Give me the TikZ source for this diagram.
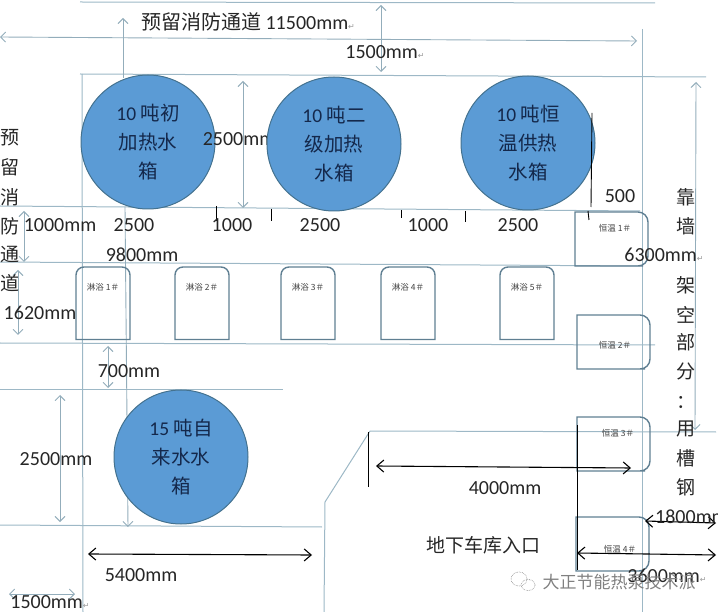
\documentclass[tikz,border=0pt]{standalone}
\usepackage{fontspec}
\usepackage{xcolor}
\usetikzlibrary{arrows.meta}
\setmainfont{Carlito}
\newfontfamily\cjk{Noto Sans CJK SC}
\newfontfamily\symb{DejaVu Sans}
\definecolor{wall}{HTML}{9DB8C6}
\definecolor{dimen}{HTML}{93ADBB}
\definecolor{tankfill}{HTML}{5B9BD5}
\definecolor{tankedge}{HTML}{44728F}
\definecolor{tanktext}{HTML}{14284B}
\definecolor{boxedge}{HTML}{5F7F92}
\definecolor{mark}{HTML}{9A9A9A}
\newcommand{\ret}{{\symb\color{mark}\fontsize{8}{8}\selectfont ↵}}
\tikzset{
  wallline/.style={draw=wall, line width=1pt},
  dimline/.style={draw=dimen, line width=0.9pt, {Straight Barb[length=5pt,width=10pt]}-{Straight Barb[length=5pt,width=10pt]}},
  dimup/.style={draw=dimen, line width=0.9pt, -{Straight Barb[length=5pt,width=10pt]}},
  blackdim/.style={draw=black, line width=1.1pt, {Straight Barb[length=7pt,width=12pt]}-{Straight Barb[length=7pt,width=12pt]}},
  tick/.style={draw=black, line width=0.9pt},
  tank/.style={circle, fill=tankfill, draw=tankedge, line width=1pt, minimum size=134pt, inner sep=0pt,
    text=tanktext, align=center, font=\fontsize{19.5}{29}\selectfont,
    execute at begin node=\rule{0pt}{21pt}},
  lab/.style={text=black!85, inner sep=0pt, font=\fontsize{20}{24}\selectfont},
  sidelab/.style={text=black!85, inner sep=0pt, font=\cjk\fontsize{19}{24}\selectfont},
  shower/.style={draw=boxedge, line width=1.4pt, rounded corners=8pt},
  roomlab/.style={text=black!75, inner sep=0pt, font=\cjk\fontsize{8.5}{9}\selectfont},
  wmark/.style={text=black!50, inner sep=0pt, font=\cjk\fontsize{17}{18}\selectfont}
}
\begin{document}
\begin{tikzpicture}[x=1pt,y=-1pt]
  \useasboundingbox (0,0) rectangle (718,612);
  \clip (0,0) rectangle (718,612);

  % walls and guide lines
  \draw[wallline] (80,2) -- (655,3);
  \draw[wallline] (80,74) -- (706,77);
  \draw[wallline] (0,206) -- (640,211);
  \draw[wallline] (0,262) -- (640,266);
  \draw[wallline] (0,343) -- (655,345);
  \draw[wallline] (0,390) -- (283,390);
  \draw[wallline] (0,525) -- (322,527);
  \draw[wallline] (370,431) -- (716,432);
  \draw[wallline] (82,74) -- (83,612);
  \draw[wallline] (642,29) -- (642,612);
  \draw[wallline] (370,431) -- (325,502) -- (324,612);

  % dimension arrows
  \draw[dimline] (0,37) -- (637,41);
  \draw[dimup] (123,78) -- (123,18);
  \draw[dimline] (381,5) -- (381,72);
  \draw[dimline] (243,81) -- (243,208);
  \draw[dimline] (24,211) -- (24,262);
  \draw[dimline] (18,270) -- (18,335);
  \draw[dimline] (108,346) -- (108,388);
  \draw[dimline] (60,395) -- (60,522);
  \draw[dimline] (9,594) -- (75,594);
  \draw[dimup] (125,207) -- (128,527);
  \draw[dimline] (696,82) -- (695,430);

  % tanks
  \node[tank] (heatA) at (148,142) {10 {\cjk 吨初}\\{\cjk 加热水}\\{\cjk 箱}};
  \node[lab] (lenD) at (239,139) {2500mm};
  \node[tank] (heatB) at (334,144) {10 {\cjk 吨二}\\{\cjk 级加热}\\{\cjk 水箱}};
  \node[tank] (heatC) at (528,143) {10 {\cjk 吨恒}\\{\cjk 温供热}\\{\cjk 水箱}};
  \node[tank] (cold) at (181,457) {15 {\cjk 吨自}\\{\cjk 来水水}\\{\cjk 箱}};

  % shower rooms
  \foreach \bx/\bi in {76/1,175/2,281/3,381/4,500/5} {
    \draw[shower] (\bx,339.5) [sharp corners] -- (\bx+54,339.5) [rounded corners=8pt] -- (\bx+54,267) -- (\bx,267) [sharp corners] -- cycle;
    \node[roomlab] (shower\bi) at (\bx+27,287) {淋浴 \bi ＃};
  }

  % constant temperature rooms
  \foreach \bx/\by/\tx/\ty/\bi in {575/212/615/228/1,577/315/615/345/2,577/417/618/433/3,576/517/620/549/4} {
    \draw[shower, rounded corners=0pt] (\bx,\by) [rounded corners=0pt] -- (\bx+58,\by) [rounded corners=10pt] -- (\bx+73,\by) -- (\bx+73,\by+54) -- (\bx+58,\by+54) [rounded corners=0pt] -- (\bx,\by+54) -- cycle;
    \node[roomlab] (room\bi) at (\tx,\ty) {恒温 \bi ＃};
  }

  % black marks
  \draw[tick] (216,206) -- (216,221);
  \draw[tick] (271,209) -- (271,221);
  \draw[tick] (401,210) -- (401,218);
  \draw[tick] (465,211) -- (465,222);
  \draw[tick] (592,113) -- (591,207);
  \draw[tick] (588,211) -- (589,220);
  \draw[tick] (368,432) -- (368,487);
  \draw[tick] (577,425) -- (577,570);
  \draw[blackdim] (88,554) -- (312,555);
  \draw[blackdim] (376,466) -- (631,468);
  \draw[blackdim] (645,521) -- (716,523);
  \draw[blackdim] (577,553) -- (716,555);

  % labels
  \node[lab] (topL) at (248,22) {{\cjk 预留消防通道} 11500mm\ret};
  \node[lab] (topH) at (385,52) {1500mm\ret};
  \node[lab] (gapA) at (60,225) {1000mm};
  \node[lab] (widA) at (134,225) {2500};
  \node[lab] (gapB) at (232,225) {1000};
  \node[lab] (widB) at (320,225) {2500};
  \node[lab] (gapC) at (428,225) {1000};
  \node[lab] (widC) at (518,225) {2500};
  \node[lab] (endG) at (620,196) {500};
  \node[lab] (totW) at (142,255) {9800mm};
  \node[lab] (depS) at (40,313) {1620mm};
  \node[lab] (gapS) at (129,371) {700mm};
  \node[lab] (lenE) at (56,459) {2500mm};
  \node[lab] (widE) at (141,575) {5400mm};
  \node[lab] (botL) at (50,602) {1500mm\ret};
  \node[lab] (ramp) at (505,488) {4000mm};
  \node[sidelab] (gate) at (483,545) {地下车库入口};
  \node[lab] (rigH) at (664,255) {6300mm\ret};
  \node[lab, anchor=west] (rigA) at (655,517) {1800mm};
  \node[lab] (rigB) at (667,576) {3600mm\ret};

  % vertical side texts
  \foreach \ty/\tc in {138/预,167/留,197/消,226/防,254/通,283/道} {
    \node[sidelab] at (10,\ty) {\tc};
  }
  \foreach \ty/\tc in {197/靠,226/墙,285/架,315/空,342/部,371/分,402/：,429/用,458/槽,487/钢} {
    \node[sidelab] at (686,\ty) {\tc};
  }

  % watermark
  \draw[densely dotted, draw=black!50, line width=0.6pt] (519,579) ellipse[x radius=8pt, y radius=7pt];
  \draw[densely dotted, draw=black!50, line width=0.6pt] (528,585) ellipse[x radius=7pt, y radius=5.5pt];
  \node[wmark] (brand) at (619,582) {大正节能热泵技术派};
\end{tikzpicture}
\end{document}
